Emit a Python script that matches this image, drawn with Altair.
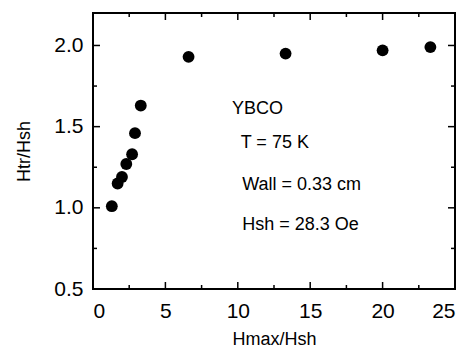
import altair as alt
import pandas as pd

hmax_hsh = [1.3, 1.7, 2.0, 2.3, 2.7, 2.9, 3.3, 6.6, 13.3, 20.0, 23.3]
htr_hsh = [1.01, 1.15, 1.19, 1.27, 1.33, 1.46, 1.63, 1.93, 1.95, 1.97, 1.99]

notes = ["YBCO", "T = 75 K", "Wall = 0.33 cm", "Hsh = 28.3 Oe"]
note_x = [9.6, 10.2, 10.3, 10.3]
note_y = [1.61, 1.40, 1.14, 0.895]

x_major = [0, 5, 10, 15, 20, 25]
x_minor = [2.5, 7.5, 12.5, 17.5, 22.5]
y_major = [0.5, 1.0, 1.5, 2.0]
y_minor = [0.75, 1.25, 1.75]

W, H = 362, 276
FONT = "Liberation Sans"
MAJ, MIN = 7, 4

df = pd.DataFrame({"x": hmax_hsh, "y": htr_hsh})
nd = pd.DataFrame({"t": notes, "x": note_x, "y": note_y})

xs = alt.Scale(domain=[0, 25], nice=False, zero=False)
ys = alt.Scale(domain=[0.5, 2.2], nice=False, zero=False)

pts = alt.Chart(df).mark_circle(size=140, color="black", opacity=1).encode(
    x=alt.X("x:Q", scale=xs, axis=alt.Axis(values=x_major, ticks=False, domain=False, grid=False,
                                             title="Hmax/Hsh", labelFontSize=21, titleFontSize=18,
                                             labelFont=FONT, titleFont=FONT, labelColor="black",
                                             titleColor="black", titleFontWeight="normal",
                                             labelPadding=11, titlePadding=9)),
    y=alt.Y("y:Q", scale=ys, axis=alt.Axis(values=y_major, ticks=False, domain=False, grid=False,
                                             title="Htr/Hsh", labelFontSize=21, titleFontSize=18,
                                             labelFont=FONT, titleFont=FONT, labelColor="black",
                                             titleColor="black", titleFontWeight="normal",
                                             format=".1f", labelPadding=10, titlePadding=20)),
)

rule_kw = dict(color="black", strokeWidth=1.5)


def xticks(vals, ln):
    d = pd.DataFrame({"v": vals})
    bot = alt.Chart(d).mark_rule(**rule_kw).encode(
        x=alt.X("v:Q", scale=xs), y=alt.value(H), y2=alt.value(H - ln))
    top = alt.Chart(d).mark_rule(**rule_kw).encode(
        x=alt.X("v:Q", scale=xs), y=alt.value(0), y2=alt.value(ln))
    return [bot, top]


def yticks(vals, ln):
    d = pd.DataFrame({"v": vals})
    left = alt.Chart(d).mark_rule(**rule_kw).encode(
        y=alt.Y("v:Q", scale=ys), x=alt.value(0), x2=alt.value(ln))
    right = alt.Chart(d).mark_rule(**rule_kw).encode(
        y=alt.Y("v:Q", scale=ys), x=alt.value(W), x2=alt.value(W - ln))
    return [left, right]


txt = alt.Chart(nd).mark_text(align="left", baseline="middle", fontSize=18, font=FONT,
                              color="black").encode(
    x=alt.X("x:Q", scale=xs), y=alt.Y("y:Q", scale=ys), text="t:N")

layers = [pts] + xticks(x_major, MAJ) + xticks(x_minor, MIN) + yticks(y_major, MAJ) + yticks(y_minor, MIN) + [txt]

chart = alt.layer(*layers).properties(
    width=W, height=H,
    padding={"left": 93, "top": 13, "right": 11, "bottom": 60},
    autosize="none",
).configure_view(stroke="black", strokeWidth=2)

chart.save("out.html", embed_options={"renderer": "svg", "actions": False})
